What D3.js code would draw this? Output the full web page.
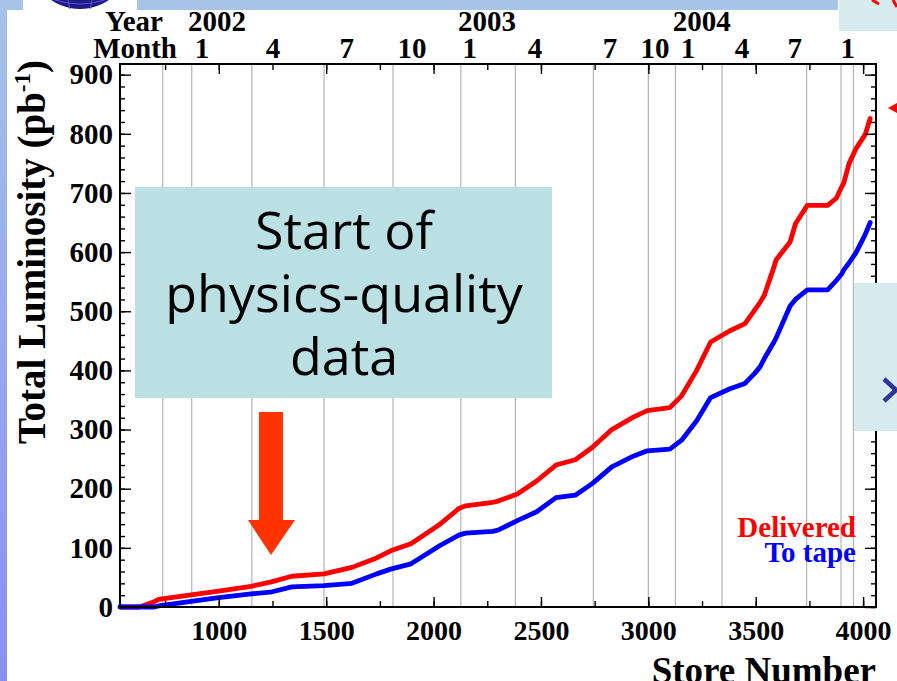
<!DOCTYPE html>
<html>
<head>
<meta charset="utf-8">
<script src="https://cdn.jsdelivr.net/npm/d3@7"></script>
<style>
  body { margin: 0; background: #fff; }
  svg { display: block; }
  .frame { fill: none; stroke: #000; stroke-width: 2; }
  .grid line { stroke: #b4b4b4; stroke-width: 1.2; }
  .axis path { display: none; }
  .axis line { stroke: #000; stroke-width: 1.4; }
  .axis text, .label { font-family: "Liberation Serif", "Times New Roman", serif; font-weight: bold; fill: #000; }
  .curve { fill: none; stroke-width: 4.8; stroke-linejoin: round; stroke-linecap: round; }
  .note { font-family: "Comic Sans MS", "Open Sans", sans-serif; font-size: 52px; fill: #000; }
</style>
</head>
<body>
<svg width="897" height="681"></svg>
<script>
const stores = [540, 630, 700, 720, 880, 1000, 1150, 1240, 1340, 1490, 1620, 1735, 1800, 1895,
  2030, 2120, 2150, 2275, 2300, 2390, 2480, 2570, 2660, 2740, 2830, 2930, 2995, 3100, 3155,
  3225, 3290, 3380, 3450, 3495, 3520, 3540, 3585, 3595, 3660, 3685, 3740, 3835, 3875, 3900,
  3910, 3935, 3967, 4010, 4033];

// integrated luminosity (pb^-1)
const delivered = [0, 0, 9, 13, 21, 27, 35, 42, 52, 56, 67, 83, 95, 107,
  140, 167, 171, 177, 179, 191, 213, 240, 249, 270, 300, 321, 332, 337, 357,
  400, 448, 467, 479, 502, 515, 527, 575, 587, 617, 648, 679, 679, 691, 710,
  717, 750, 775, 799, 826];

const toTape = [0, 0, 0, 2, 10, 16, 22, 25, 34, 36, 40, 56, 64, 73,
  104, 122, 125, 128, 130, 146, 161, 185, 189, 209, 237, 255, 264, 267, 282,
  315, 354, 369, 378, 395, 406, 420, 448, 455, 509, 520, 536, 536, 552, 563,
  570, 582, 599, 630, 650];

// calendar grid (store number at each quarter boundary)
const quarterLines = [739, 874, 1154, 1490, 1811, 2127, 2381, 2744, 3000, 3126, 3343, 3737, 3897, 3955];

const monthLabels = ["1", "4", "7", "10", "1", "4", "7", "10", "1", "4", "7", "1"];
const monthStores = [922, 1252, 1596, 1899, 2169, 2472, 2821, 3031, 3185, 3436, 3682, 3929];

const yearLabels = ["2002", "2003", "2004", "2005"];
const yearStores = [992, 2249, 3249, 4030];

const xMajor = [1000, 1500, 2000, 2500, 3000, 3500, 4000];
const xMinor = d3.range(750, 4060, 250);
const yMajor = d3.range(0, 901, 100);
const yMinor = d3.range(0, 918, 20);

const svg = d3.select("svg");
const plot = {left: 120, right: 876, top: 64, bottom: 607};

const x = d3.scaleLinear().domain([540, 4060]).range([plot.left, plot.right]);
const y = d3.scaleLinear().domain([0, 918]).range([plot.bottom, plot.top]);

drawSlide();
drawGrid();
drawCurves();
drawAxes();
drawLabels();
drawNotes();

function drawSlide() {
  const defs = svg.append("defs");
  const grad = defs.append("linearGradient")
    .attr("id", "strip")
    .attr("x1", 0).attr("y1", 0).attr("x2", 0).attr("y2", 1);
  grad.append("stop").attr("offset", 0).attr("stop-color", "#a7c2e8");
  grad.append("stop").attr("offset", 1).attr("stop-color", "#8a8ef2");

  svg.append("rect").attr("x", 0).attr("y", 0).attr("width", 838).attr("height", 10).attr("fill", "#a8c4e8");
  svg.append("rect").attr("x", 0).attr("y", 0).attr("width", 7).attr("height", 681).attr("fill", "url(#strip)");
  svg.append("rect").attr("x", 0).attr("y", 0).attr("width", 23).attr("height", 10).attr("fill", "#a8c4e8");
  svg.append("rect").attr("x", 23).attr("y", 0).attr("width", 114).attr("height", 10).attr("fill", "#fff");

  // bottom of the logo globe
  svg.append("circle").attr("cx", 80).attr("cy", -42).attr("r", 51).attr("fill", "#1c1c86");
  svg.append("path")
    .attr("d", "M55,0 Q80,8 105,0 M68,0 L70,9 M92,0 L90,9")
    .attr("fill", "none").attr("stroke", "#6a4ad0").attr("stroke-width", 1);
}

function drawGrid() {
  svg.append("g")
    .attr("class", "grid")
    .selectAll("line")
    .data(quarterLines)
    .enter()
    .append("line")
    .attr("x1", d => x(d)).attr("x2", d => x(d))
    .attr("y1", plot.top).attr("y2", plot.bottom);
}

function drawCurves() {
  const rows = stores.map((s, i) => ({s: s, del: delivered[i], tape: toTape[i]}));

  const lineDel = d3.line().x(d => x(d.s)).y(d => y(d.del));
  const lineTape = d3.line().x(d => x(d.s)).y(d => y(d.tape));

  svg.append("path").datum(rows).attr("class", "curve").attr("stroke", "#ff0000").attr("d", lineDel);
  svg.append("path").datum(rows).attr("class", "curve").attr("stroke", "#0000ff").attr("d", lineTape);
}

function drawAxes() {
  const bottom = svg.append("g").attr("class", "axis")
    .attr("transform", `translate(0,${plot.bottom})`);
  bottom.call(d3.axisBottom(x).tickValues(xMinor).tickSize(-6).tickFormat(""));
  bottom.append("g").call(d3.axisBottom(x).tickValues(xMajor).tickSize(-10).tickPadding(13).tickFormat(d3.format("d")))
    .selectAll("text").style("font-size", "28px");

  const top = svg.append("g").attr("class", "axis")
    .attr("transform", `translate(0,${plot.top})`);
  top.call(d3.axisTop(x).tickValues(xMinor).tickSize(-6).tickFormat(""));
  top.append("g").call(d3.axisTop(x).tickValues(xMajor).tickSize(-10).tickFormat(""));

  const left = svg.append("g").attr("class", "axis")
    .attr("transform", `translate(${plot.left},0)`);
  left.call(d3.axisLeft(y).tickValues(yMinor).tickSize(-5).tickFormat(""));
  left.append("g").call(d3.axisLeft(y).tickValues(yMajor).tickSize(-11).tickPadding(7).tickFormat(d3.format("d")))
    .selectAll("text").style("font-size", "29px");

  const right = svg.append("g").attr("class", "axis")
    .attr("transform", `translate(${plot.right},0)`);
  right.call(d3.axisRight(y).tickValues(yMinor).tickSize(-5).tickFormat(""));
  right.append("g").call(d3.axisRight(y).tickValues(yMajor).tickSize(-11).tickFormat(""));

  svg.append("rect").attr("class", "frame")
    .attr("x", plot.left).attr("y", plot.top)
    .attr("width", plot.right - plot.left).attr("height", plot.bottom - plot.top);
}

function drawLabels() {
  const g = svg.append("g").attr("class", "label").style("font-size", "29px");

  g.append("text").attr("x", 163).attr("y", 31).attr("text-anchor", "end").text("Year");
  g.append("text").attr("x", 177).attr("y", 58).attr("text-anchor", "end").text("Month");

  g.selectAll("text.month")
    .data(monthLabels)
    .enter()
    .append("text")
    .attr("class", "month")
    .attr("x", (d, i) => x(monthStores[i]))
    .attr("y", 58)
    .attr("text-anchor", "middle")
    .text(d => d);

  g.selectAll("text.year")
    .data(yearLabels)
    .enter()
    .append("text")
    .attr("class", "year")
    .attr("x", (d, i) => x(yearStores[i]))
    .attr("y", 31)
    .attr("text-anchor", "middle")
    .text(d => d);

  svg.append("text").attr("class", "label")
    .attr("x", 876).attr("y", 683)
    .attr("text-anchor", "end")
    .style("font-size", "37px")
    .text("Store Number");

  const ytitle = svg.append("text").attr("class", "label")
    .attr("transform", "translate(45,60) rotate(-90)")
    .attr("text-anchor", "end")
    .style("font-size", "39px");
  ytitle.append("tspan").text("Total Luminosity (pb");
  ytitle.append("tspan").attr("dy", -15).style("font-size", "23px").text("-1");
  ytitle.append("tspan").attr("dy", 15).text(")");

  svg.append("text").attr("class", "label")
    .attr("x", 856).attr("y", 537).attr("text-anchor", "end")
    .style("font-size", "29px").style("fill", "#ff0000")
    .text("Delivered");
  svg.append("text").attr("class", "label")
    .attr("x", 856).attr("y", 562).attr("text-anchor", "end")
    .style("font-size", "29px").style("fill", "#0000ff")
    .text("To tape");
}

function drawNotes() {
  // callout box
  svg.append("rect").attr("x", 135).attr("y", 187).attr("width", 417).attr("height", 211).attr("fill", "#bae0e3");
  const lines = ["Start of", "physics-quality", "data"];
  svg.selectAll("text.note")
    .data(lines)
    .enter()
    .append("text")
    .attr("class", "note")
    .attr("x", 344)
    .attr("y", (d, i) => 249 + i * 63)
    .attr("text-anchor", "middle")
    .text(d => d);

  // arrow down to the start point
  svg.append("path")
    .attr("d", "M259,412 L283,412 L283,520 L295,520 L271,555 L248,520 L259,520 Z")
    .attr("fill", "#ff3300");

  // pieces of neighbouring slide objects
  svg.append("rect").attr("x", 839).attr("y", 0).attr("width", 58).attr("height", 31).attr("fill", "#d6ebee");
  svg.append("path").attr("d", "M872,0 L879,4 M893,0 L897,7")
    .attr("stroke", "#ff0000").attr("stroke-width", 3).attr("fill", "none");
  svg.append("path").attr("d", "M888,108 L897,103 L897,113 Z").attr("fill", "#ff0000");

  svg.append("rect").attr("x", 854).attr("y", 283).attr("width", 43).attr("height", 148).attr("fill", "#d5ebee");
  svg.append("path").attr("d", "M884,379 L896,390 L884,401")
    .attr("stroke", "#333399").attr("stroke-width", 4.5).attr("fill", "none");
}
</script>
</body>
</html>
